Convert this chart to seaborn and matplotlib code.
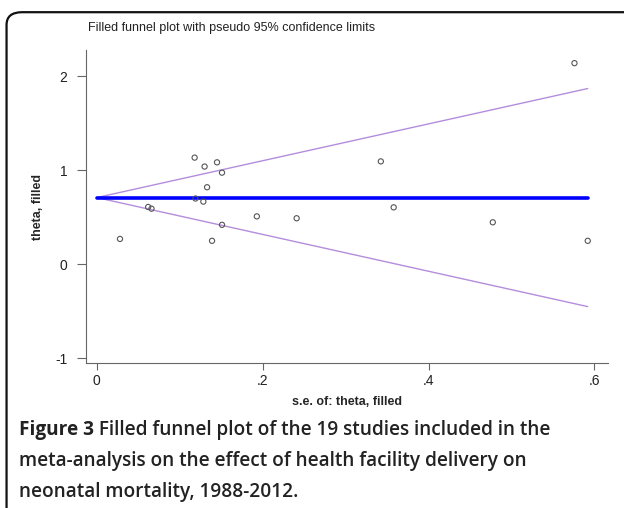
import pandas as pd
import seaborn as sns
import matplotlib.pyplot as plt
from matplotlib.patches import FancyBboxPatch
from matplotlib.transforms import offset_copy

# Estudos (s.e. e theta)
se_vals = [0.118, 0.130, 0.145, 0.151, 0.133, 0.119, 0.1285, 0.062, 0.066, 0.193,
           0.241, 0.151, 0.028, 0.139, 0.3425, 0.358, 0.4775, 0.592, 0.576]
theta_vals = [1.135, 1.04, 1.085, 0.975, 0.82, 0.70, 0.667, 0.61, 0.592, 0.51,
              0.49, 0.42, 0.27, 0.25, 1.095, 0.606, 0.447, 0.25, 2.14]

# Linha central e limites pseudo 95%
limit_se = [0.0, 0.592]
center = [0.71, 0.71]
upper = [0.71, 1.87]
lower = [0.71, -0.45]

xticks = [0, 0.2, 0.4, 0.6]
xtick_labels = ['0', '.2', '.4', '.6']
yticks = [-1, 0, 1, 2]

df = pd.DataFrame({'se': se_vals, 'theta': theta_vals})
lim = pd.DataFrame({'se': limit_se, 'center': center, 'upper': upper, 'lower': lower})

sns.set_theme(style='white')
plt.rcParams['font.family'] = ['Liberation Sans', 'DejaVu Sans']
plt.rcParams['axes.unicode_minus'] = False

fig = plt.figure(figsize=(6.24, 5.08), dpi=100)
ax = fig.add_axes([0.1378, 0.2854, 0.836, 0.6162])

sns.lineplot(data=lim, x='se', y='upper', color='#B48EDC', linewidth=1, ax=ax)
sns.lineplot(data=lim, x='se', y='lower', color='#B48EDC', linewidth=1, ax=ax)
sns.lineplot(data=lim, x='se', y='center', color='#0000FF', linewidth=2.6, ax=ax)
sns.scatterplot(data=df, x='se', y='theta', marker='o', s=14, facecolors='none',
                edgecolor='#555555', linewidth=0.8, ax=ax, zorder=5)

ax.set_xlim(-0.013, 0.616)
ax.set_ylim(-1.05, 2.28)
ax.set_xticks(xticks)
ax.set_xticklabels(xtick_labels)
ax.set_yticks(yticks)
ax.tick_params(axis='both', direction='out', width=0.8, color='#666666',
               labelsize=10, labelcolor='#222222', bottom=True, left=True)
ax.tick_params(axis='x', length=5, pad=3)
ax.tick_params(axis='y', length=6.5, pad=7)

for s in ['top', 'right']:
    ax.spines[s].set_visible(False)
for s in ['left', 'bottom']:
    ax.spines[s].set_color('#666666')
    ax.spines[s].set_linewidth(0.8)

ax.set_xlabel('s.e. of: theta, filled', fontsize=9, fontweight='bold', labelpad=6)
ax.set_ylabel('theta, filled', fontsize=9, fontweight='bold', labelpad=8)

fig.text(0.141, 0.945, 'Filled funnel plot with pseudo 95% confidence limits',
         fontsize=9, color='#222222', va='center')

# Legenda da figura
cap_font = ['Open Sans', 'DejaVu Sans']
cap_size = 13.7
t = fig.text(0.0305, 0.1535, 'Figure 3', fontsize=cap_size, fontweight='bold',
             family=cap_font, color='#222222', va='center')
fig.canvas.draw()
w = t.get_window_extent().width
fig.text(0.0305, 0.1535, ' Filled funnel plot of the 19 studies included in the',
         fontsize=cap_size, fontweight='semibold', family=cap_font, color='#222222',
         va='center', transform=offset_copy(fig.transFigure, fig=fig, x=w, y=0, units='dots'))
fig.text(0.0305, 0.0925, 'meta-analysis on the effect of health facility delivery on',
         fontsize=cap_size, fontweight='semibold', family=cap_font, color='#222222', va='center')
fig.text(0.0305, 0.0315, 'neonatal mortality, 1988-2012.',
         fontsize=cap_size, fontweight='semibold', family=cap_font, color='#222222', va='center')

# Moldura arredondada
frame = FancyBboxPatch((0.0105, -0.1), 1.2, 1.076, boxstyle='round,pad=0,rounding_size=0.025',
                       transform=fig.transFigure, fill=False, edgecolor='#111111',
                       linewidth=1.6, clip_on=False)
fig.patches.append(frame)

fig.savefig('out.png', dpi=100)
